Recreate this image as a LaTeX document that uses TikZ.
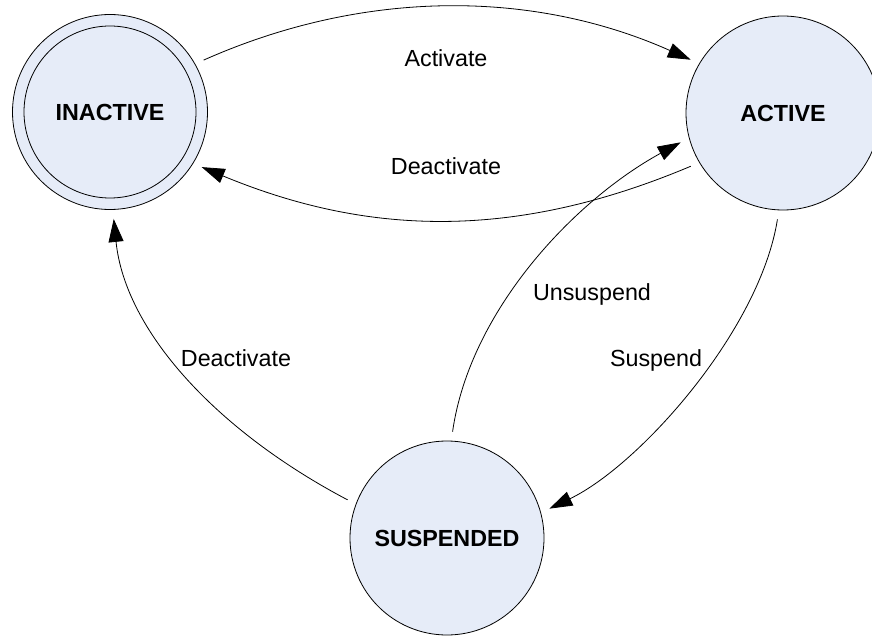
\documentclass[tikz,border=0pt]{standalone}
\usepackage{fontspec}
\setmainfont{Liberation Sans}
\usetikzlibrary{arrows.meta}
\definecolor{statefill}{RGB}{230,236,248}
\begin{document}
\begin{tikzpicture}[x=1pt,y=-1pt,
  state/.style={circle,draw=black,line width=0.8pt,fill=statefill,inner sep=0pt,outer sep=9.5pt,
     minimum size=194pt,font=\fontsize{23.3pt}{28pt}\selectfont\bfseries},
  lbl/.style={anchor=base,inner sep=0pt,font=\fontsize{23.3pt}{28pt}\selectfont},
  trans/.style={line width=0.8pt,-{Triangle[length=23pt,width=15pt]}}]
\useasboundingbox (0,0) rectangle (872,636);
\node[state,minimum size=195pt] (I) at (110,112) {INACTIVE};
\draw[line width=0.8pt] (110,112) circle[radius=86];
\node[state] (A) at (783,113) {ACTIVE};
\node[state] (S) at (447,538) {SUSPENDED};
% transitions
\draw[trans] (I.29.5) .. controls +(159,-70.7) and +(-159,-70.7) .. (A.150);
\draw[trans] (A.210) .. controls +(-171,72) and +(171,71) .. (I.329.4);
\draw[trans] (A.267.3) .. controls (760,330) and (640,465) .. (S.16.4);
\draw[trans] (S.87.3) .. controls (470,310) and (575,200) .. (A.196.9);
\draw[trans] (S.159.1) .. controls (215,430) and (125,330) .. (I.272.6);
% labels
\node[lbl] (l1) at (446,67) {Activate};
\node[lbl] (l2) at (446,175) {Deactivate};
\node[lbl] (l3) at (236,366) {Deactivate};
\node[lbl] (l4) at (592,300) {Unsuspend};
\node[lbl] (l5) at (656,366) {Suspend};
\end{tikzpicture}
\end{document}
